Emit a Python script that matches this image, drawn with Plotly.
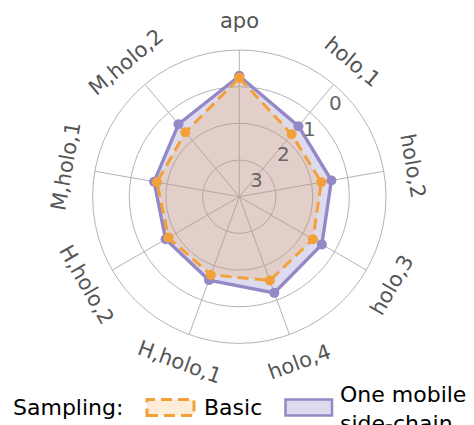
import math
import plotly.graph_objects as go

# Radar comparison of two sampling schemes (radial axis reversed: 0 at the rim)
categories = ["apo", "holo,1", "holo,2", "holo,3", "holo,4",
              "H,holo,1", "H,holo,2", "M,holo,1", "M,holo,2"]
basic = [0.76, 1.78, 1.73, 1.68, 1.57, 1.73, 1.77, 1.72, 1.71]
one_mobile = [0.71, 1.49, 1.45, 1.40, 1.21, 1.58, 1.68, 1.64, 1.42]
radial_ticks = [0, 1, 2, 3]
r_inner = 4  # value at the centre

W, H = 474, 425
CX, CY, RAD = 239.3, 196.7, 146.7   # polar centre and radius in pixels

ORANGE = "#f2a13a"
PURPLE = "#9588c6"
ORANGE_FILL = "rgba(242,161,58,0.2)"
PURPLE_FILL = "rgba(149,136,198,0.3)"
GRID = "#b4b4b4"
LABEL = "#555555"
FONT = "DejaVu Sans"


def closed(vals):
    return list(vals) + [vals[0]]


theta = closed(categories)

fig = go.Figure()
fig.add_trace(go.Scatterpolar(
    r=closed(one_mobile), theta=theta, name="One mobile side-chain",
    mode="lines+markers", fill="toself", fillcolor=PURPLE_FILL,
    line=dict(color=PURPLE, width=3.4), marker=dict(color=PURPLE, size=10),
    showlegend=False, cliponaxis=False,
))
fig.add_trace(go.Scatterpolar(
    r=closed(basic), theta=theta, name="Basic",
    mode="lines+markers", fill="toself", fillcolor=ORANGE_FILL,
    line=dict(color=ORANGE, width=3, dash="11px,6px"), marker=dict(color=ORANGE, size=10),
    showlegend=False, cliponaxis=False,
))

# polar domain in paper fractions
dom_x = [(CX - RAD) / W, (CX + RAD) / W]
dom_y = [1 - (CY + RAD) / H, 1 - (CY - RAD) / H]

fig.update_layout(
    width=W, height=H,
    margin=dict(l=0, r=0, t=0, b=0),
    paper_bgcolor="white", plot_bgcolor="white",
    font=dict(family=FONT, color=LABEL),
    showlegend=False,
    polar=dict(
        domain=dict(x=dom_x, y=dom_y),
        bgcolor="white",
        angularaxis=dict(
            type="category", categoryarray=categories,
            rotation=90, direction="clockwise",
            showticklabels=False, ticks="",
            gridcolor=GRID, gridwidth=1,
            linecolor=GRID, linewidth=1, showline=True,
        ),
        radialaxis=dict(
            range=[r_inner, 0], tickvals=radial_ticks,
            showticklabels=False, ticks="", showline=False,
            gridcolor=GRID, gridwidth=1, angle=90,
        ),
    ),
)

annotations = []

# category labels, rotated to follow the circle
n = len(categories)
for i, cat in enumerate(categories):
    a = 360.0 * i / n
    rad = math.radians(a)
    dist = 176
    x = (CX + dist * math.sin(rad)) / W
    y = 1 - (CY - dist * math.cos(rad)) / H
    ang = a % 180
    if ang > 90:
        ang -= 180
    annotations.append(dict(
        x=x, y=y, xref="paper", yref="paper", text=cat, showarrow=False,
        textangle=ang, xanchor="center", yanchor="middle",
        font=dict(size=21, color=LABEL, family=FONT),
    ))

# radial tick labels along the 45 degree direction, just inside each ring
for v in radial_ticks:
    dist = RAD * (r_inner - v) / r_inner - 12.5
    rad = math.radians(44)
    x = (CX + dist * math.cos(rad)) / W
    y = 1 - (CY - dist * math.sin(rad)) / H
    annotations.append(dict(
        x=x, y=y, xref="paper", yref="paper", text=str(v), showarrow=False,
        xanchor="center", yanchor="middle",
        font=dict(size=20, color="#666666", family=FONT),
    ))

# legend row: "Sampling:" followed by two patches
leg_y = 407.5
annotations.append(dict(
    x=11 / W, y=1 - leg_y / H, xref="paper", yref="paper", text="Sampling:",
    showarrow=False, xanchor="left", yanchor="middle",
    font=dict(size=22, color="black", family=FONT),
))
annotations.append(dict(
    x=202 / W, y=1 - leg_y / H, xref="paper", yref="paper", text="Basic",
    showarrow=False, xanchor="left", yanchor="middle",
    font=dict(size=22, color="black", family=FONT),
))
annotations.append(dict(
    x=338 / W, y=1 - 380 / H, xref="paper", yref="paper",
    text="One mobile<br>side-chain", align="left",
    showarrow=False, xanchor="left", yanchor="top",
    font=dict(size=22, color="black", family=FONT),
))

shapes = [
    dict(type="rect", xref="paper", yref="paper",
         x0=147 / W, x1=194 / W, y0=1 - 415.5 / H, y1=1 - 399.5 / H,
         fillcolor=ORANGE_FILL, line=dict(color=ORANGE, width=3, dash="11px,6px")),
    dict(type="rect", xref="paper", yref="paper",
         x0=285.5 / W, x1=332 / W, y0=1 - 415.5 / H, y1=1 - 399.5 / H,
         fillcolor=PURPLE_FILL, line=dict(color=PURPLE, width=2.5)),
]

fig.update_layout(annotations=annotations, shapes=shapes)

fig.write_html("out.html")
